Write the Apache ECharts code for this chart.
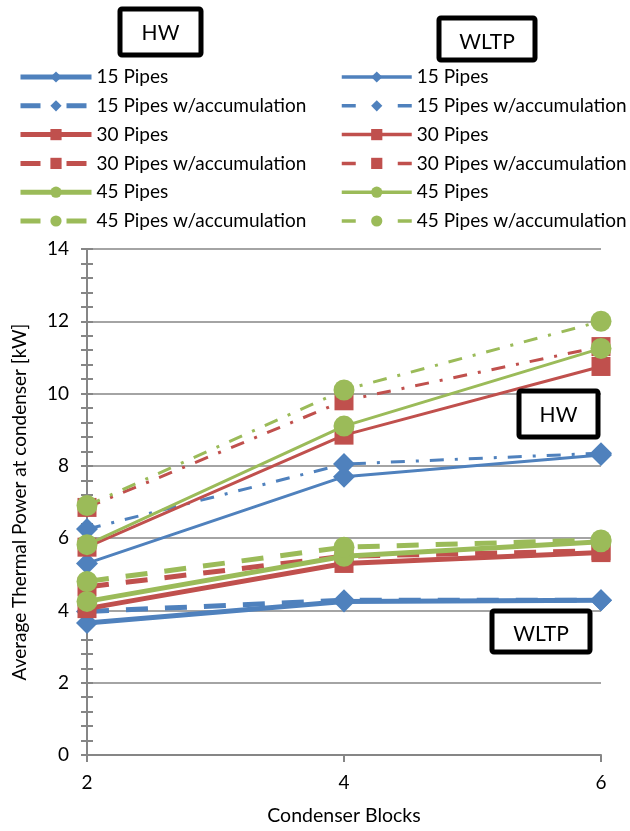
<!DOCTYPE html>
<html>
<head>
<meta charset="utf-8">
<script src="https://cdn.jsdelivr.net/npm/echarts@6/dist/echarts.min.js"></script>
<style>
  html, body { margin: 0; padding: 0; background: #ffffff; }
  #chart { width: 630px; height: 831px; }
</style>
</head>
<body>
<div id="chart"></div>
<script>
// Condenser block counts on the x axis
const blocks = [2, 4, 6];

// HW cycle: average thermal power at condenser [kW]
const hw15 = [5.3, 7.7, 8.3];
const hw15Acc = [6.25, 8.05, 8.35];
const hw30 = [5.75, 8.85, 10.75];
const hw30Acc = [6.85, 9.8, 11.3];
const hw45 = [5.82, 9.1, 11.25];
const hw45Acc = [6.9, 10.1, 12.0];

// WLTP cycle: average thermal power at condenser [kW]
const wltp15 = [3.65, 4.25, 4.28];
const wltp15Acc = [3.97, 4.28, 4.28];
const wltp30 = [4.05, 5.3, 5.6];
const wltp30Acc = [4.65, 5.5, 5.65];
const wltp45 = [4.25, 5.5, 5.9];
const wltp45Acc = [4.8, 5.75, 5.95];

const seriesLabels = ['15 Pipes', '15 Pipes w/accumulation', '30 Pipes',
  '30 Pipes w/accumulation', '45 Pipes', '45 Pipes w/accumulation'];

const BLUE = '#4F81BD', RED = '#C0504D', GREEN = '#9BBB59';
const FONT = 'Lato';

const pts = vals => blocks.map((b, i) => [b, vals[i]]);

const groups = [
  { key: 'HW', sets: [hw15, hw15Acc, hw30, hw30Acc, hw45, hw45Acc] },
  { key: 'WLTP', sets: [wltp15, wltp15Acc, wltp30, wltp30Acc, wltp45, wltp45Acc] }
];
const colors = [BLUE, BLUE, RED, RED, GREEN, GREEN];
const symbols = ['diamond', 'diamond', 'rect', 'rect', 'circle', 'circle'];
const symSizes = [22, 22, 19, 19, 21, 21];

const series = [];
groups.forEach(g => {
  g.sets.forEach((vals, i) => {
    const acc = i % 2 === 1;
    const hw = g.key === 'HW';
    series.push({
      name: g.key + ' ' + seriesLabels[i],
      type: 'line',
      data: pts(vals),
      symbol: symbols[i],
      symbolSize: symSizes[i],
      color: colors[i],
      z: 2 + Math.floor(i / 2),
      lineStyle: {
        color: colors[i],
        width: hw ? 3 : 5,
        type: acc ? (hw ? [14, 11, 3, 11] : [22, 17]) : 'solid',
        cap: 'butt'
      },
      itemStyle: { color: colors[i] },
      emphasis: { disabled: true },
      animation: false
    });
  });
});

function legendFor(key, left, width, thick) {
  return {
    orient: 'vertical',
    left: left,
    top: 61,
    itemWidth: width,
    itemHeight: 14,
    itemGap: 6.8,
    selectedMode: false,
    textStyle: { fontFamily: FONT, fontSize: 19, color: '#000', lineHeight: 22 },
    formatter: n => n.replace(key + ' ', ''),
    data: seriesLabels.map((lab, i) => ({
      name: key + ' ' + lab,
      lineStyle: {
        width: thick ? 5 : 3.5,
        type: i % 2 === 1 ? (thick ? [20, 26] : [14, 42]) : 'solid',
        cap: 'butt'
      }
    }))
  };
}

function textBox(x, y, w, h, label, ty) {
  return {
    type: 'group',
    children: [
      { type: 'rect', shape: { x: x, y: y, width: w, height: h, r: 2 },
        style: { fill: '#fff', stroke: '#000', lineWidth: 5 }, z: 100 },
      { type: 'text', x: x + w / 2, y: ty, z: 101,
        style: { text: label, fill: '#000', font: '21px ' + FONT, align: 'center', verticalAlign: 'middle' } }
    ]
  };
}

const axisGray = '#868686';
const chart = echarts.init(document.getElementById('chart'), null, { renderer: 'canvas' });
chart.setOption({
  backgroundColor: '#ffffff',
  animation: false,
  legend: [legendFor('HW', 13, 71, true), legendFor('WLTP', 335, 70, false)],
  grid: { left: 87, right: 29, top: 249, bottom: 74 },
  xAxis: {
    type: 'value', min: 2, max: 6, interval: 2,
    name: 'Condenser Blocks', nameLocation: 'middle', nameGap: 51,
    nameTextStyle: { fontFamily: FONT, fontSize: 19.5, color: '#000' },
    axisLine: { show: true, lineStyle: { color: axisGray, width: 2 } },
    axisTick: { show: true, length: 7, lineStyle: { color: axisGray, width: 2 } },
    axisLabel: { fontFamily: FONT, fontSize: 19, color: '#000', margin: 18 },
    splitLine: { show: false }
  },
  yAxis: [{
    type: 'value', min: 0, max: 14, interval: 2,
    name: 'Average Thermal Power at condenser [kW]', nameLocation: 'middle', nameGap: 58,
    nameTextStyle: { fontFamily: FONT, fontSize: 19, color: '#000' },
    axisLine: { show: true, lineStyle: { color: axisGray, width: 2 } },
    axisTick: { show: true, length: 6, lineStyle: { color: axisGray, width: 2 } },
    minorTick: { show: true, splitNumber: 5, length: 6, lineStyle: { color: axisGray, width: 2 } },
    axisLabel: { fontFamily: FONT, fontSize: 19, color: '#000', margin: 18 },
    splitLine: { show: true, lineStyle: { color: axisGray, width: 1.5 } }
  }, {
    type: 'value', min: 0, max: 14, interval: 2, position: 'left',
    axisLine: { show: false },
    axisTick: { show: true, inside: true, length: 6, lineStyle: { color: axisGray, width: 2 } },
    minorTick: { show: true, splitNumber: 5, length: 6, lineStyle: { color: axisGray, width: 2 } },
    axisLabel: { show: false },
    splitLine: { show: false }
  }],
  series: series,
  graphic: [
    textBox(120, 9, 81, 46, 'HW', 33),
    textBox(439, 18, 96, 42, 'WLTP', 42),
    textBox(519, 391, 79, 46, 'HW', 415),
    textBox(492, 611, 98, 41, 'WLTP', 634)
  ]
});
</script>
</body>
</html>
